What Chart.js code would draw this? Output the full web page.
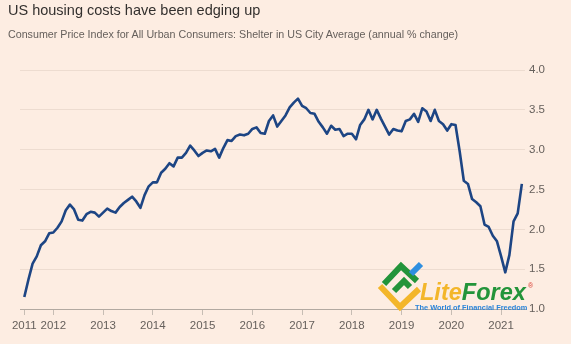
<!DOCTYPE html>
<html>
<head>
<meta charset="utf-8">
<script src="https://cdn.jsdelivr.net/npm/chart.js@4/dist/chart.umd.min.js"></script>
<style>
  html, body { margin: 0; padding: 0; background: #fdede2; }
  #wrap { position: relative; width: 571px; height: 344px; overflow: hidden; }
  #title {
    position: absolute; left: 8px; top: 2px;
    font: 14.5px "Liberation Sans", Arial, sans-serif; color: #33302e;
  }
  #subtitle {
    position: absolute; left: 8px; top: 28px;
    font: 10.7px "Liberation Sans", Arial, sans-serif; color: #66605c;
  }
  #chart { position: absolute; left: 0; top: 0; }
</style>
</head>
<body>
<div id="wrap">
  <canvas id="chart" width="571" height="344"></canvas>
  <div id="title">US housing costs have been edging up</div>
  <div id="subtitle">Consumer Price Index for All Urban Consumers: Shelter in US City Average (annual % change)</div>
</div>
<script>
// --- Shelter CPI, annual % change, monthly (series begins June 2011) ---
const firstMonth = 6;
const shelter2011 = [1.15, 1.37, 1.57, 1.66, 1.80, 1.85, 1.95];
const shelter2012 = [1.96, 2.02, 2.10, 2.24, 2.31, 2.25, 2.12, 2.11, 2.19, 2.22, 2.21, 2.16];
const shelter2013 = [2.21, 2.26, 2.23, 2.21, 2.28, 2.33, 2.37, 2.41, 2.35, 2.27, 2.43, 2.54];
const shelter2014 = [2.59, 2.59, 2.71, 2.76, 2.83, 2.79, 2.90, 2.90, 2.96, 3.05, 2.99, 2.92];
const shelter2015 = [2.96, 2.99, 2.98, 3.01, 2.90, 3.02, 3.12, 3.11, 3.17, 3.19, 3.18, 3.20];
const shelter2016 = [3.26, 3.28, 3.21, 3.20, 3.36, 3.43, 3.29, 3.36, 3.43, 3.53, 3.59, 3.64];
const shelter2017 = [3.55, 3.52, 3.46, 3.45, 3.35, 3.28, 3.20, 3.30, 3.25, 3.26, 3.17, 3.20];
const shelter2018 = [3.20, 3.13, 3.31, 3.38, 3.50, 3.38, 3.50, 3.39, 3.29, 3.19, 3.26, 3.24];
const shelter2019 = [3.23, 3.36, 3.38, 3.45, 3.35, 3.52, 3.48, 3.36, 3.50, 3.36, 3.32, 3.24];
const shelter2020 = [3.32, 3.31, 2.98, 2.61, 2.57, 2.38, 2.34, 2.29, 2.06, 2.03, 1.92, 1.85];
const shelter2021 = [1.66, 1.46, 1.68, 2.10, 2.20, 2.57];

const years = [2011, 2012, 2013, 2014, 2015, 2016, 2017, 2018, 2019, 2020, 2021];
const shelterByYear = [shelter2011, shelter2012, shelter2013, shelter2014, shelter2015,
  shelter2016, shelter2017, shelter2018, shelter2019, shelter2020, shelter2021];
const yearLabels = ['2011', '2012', '2013', '2014', '2015', '2016', '2017', '2018', '2019', '2020', '2021'];
const yTicks = [1.0, 1.5, 2.0, 2.5, 3.0, 3.5, 4.0];

// monthly points on a decimal-year x axis
const points = [];
years.forEach((yr, i) => {
  const startM = i === 0 ? firstMonth : 1;
  shelterByYear[i].forEach((v, k) => {
    points.push({ x: yr + (startM - 1 + k) / 12, y: v });
  });
});
// first tick sits on the first observation, the rest on January
const xTickValues = years.map((yr, i) => i === 0 ? yr + (firstMonth - 1) / 12 : yr);

const FONT = '"Liberation Sans", Arial, sans-serif';
const INK = '#66605c';

// LiteForex mark in the lower right corner
const logoPlugin = {
  id: 'logo',
  afterDraw(chart) {
    const ctx = chart.ctx;
    ctx.save();
    ctx.lineJoin = 'miter';
    ctx.lineCap = 'butt';
    ctx.lineWidth = 6;
    ctx.strokeStyle = '#f3b62a';
    ctx.beginPath();
    ctx.moveTo(380, 286); ctx.lineTo(400, 307); ctx.lineTo(419, 289);
    ctx.stroke();
    ctx.strokeStyle = '#23943a';
    ctx.beginPath();
    ctx.moveTo(384, 284); ctx.lineTo(401, 266); ctx.lineTo(417, 281);
    ctx.stroke();
    ctx.beginPath();
    ctx.moveTo(394, 291); ctx.lineTo(404, 281); ctx.lineTo(410, 287);
    ctx.stroke();
    ctx.strokeStyle = '#2f8fe0';
    ctx.beginPath();
    ctx.moveTo(411, 274); ctx.lineTo(421, 264);
    ctx.stroke();

    ctx.textBaseline = 'alphabetic';
    ctx.font = 'italic bold 23.5px ' + FONT;
    ctx.fillStyle = '#f3b62a';
    ctx.fillText('Lite', 420, 300);
    const w = ctx.measureText('Lite').width;
    ctx.fillStyle = '#23943a';
    ctx.fillText('Forex', 420 + w, 300);
    ctx.font = '7px ' + FONT;
    ctx.fillStyle = '#d8352b';
    ctx.fillText('\u00AE', 528, 288);
    ctx.font = 'bold 7.4px ' + FONT;
    ctx.fillStyle = '#2b84d8';
    ctx.fillText('The World of Financial Freedom', 415, 310);
    ctx.restore();
  }
};

new Chart(document.getElementById('chart').getContext('2d'), {
  type: 'line',
  data: {
    datasets: [{
      data: points,
      borderColor: '#1d4584',
      borderWidth: 2.6,
      borderJoinStyle: 'round',
      pointRadius: 0,
      tension: 0,
      fill: false
    }]
  },
  options: {
    responsive: false,
    animation: false,
    layout: { padding: { left: 20, top: 70, right: 0, bottom: 0 } },
    plugins: { legend: { display: false }, tooltip: { enabled: false } },
    scales: {
      x: {
        type: 'linear',
        min: 2011.33,
        max: 2021.48,
        afterBuildTicks: (scale) => { scale.ticks = xTickValues.map(v => ({ value: v })); },
        afterFit: (scale) => { scale.height = 35; },
        border: { display: true, color: '#b2a9a1', width: 1 },
        grid: { drawOnChartArea: false, drawTicks: true, tickLength: 6, color: '#c7bdb4' },
        ticks: {
          autoSkip: false, maxRotation: 0, padding: 4,
          color: INK, font: { family: FONT, size: 11.5 },
          callback: (v, i) => yearLabels[i]
        }
      },
      y: {
        position: 'right',
        min: 1.0,
        max: 4.0,
        afterBuildTicks: (scale) => { scale.ticks = yTicks.map(v => ({ value: v })); },
        afterFit: (scale) => { scale.width = 46; },
        border: { display: false },
        grid: { drawTicks: false, color: '#eddcd0', lineWidth: 1 },
        ticks: {
          padding: 4, color: INK, font: { family: FONT, size: 11.5 },
          callback: (v) => v.toFixed(1)
        }
      }
    }
  },
  plugins: [logoPlugin]
});
</script>
</body>
</html>
